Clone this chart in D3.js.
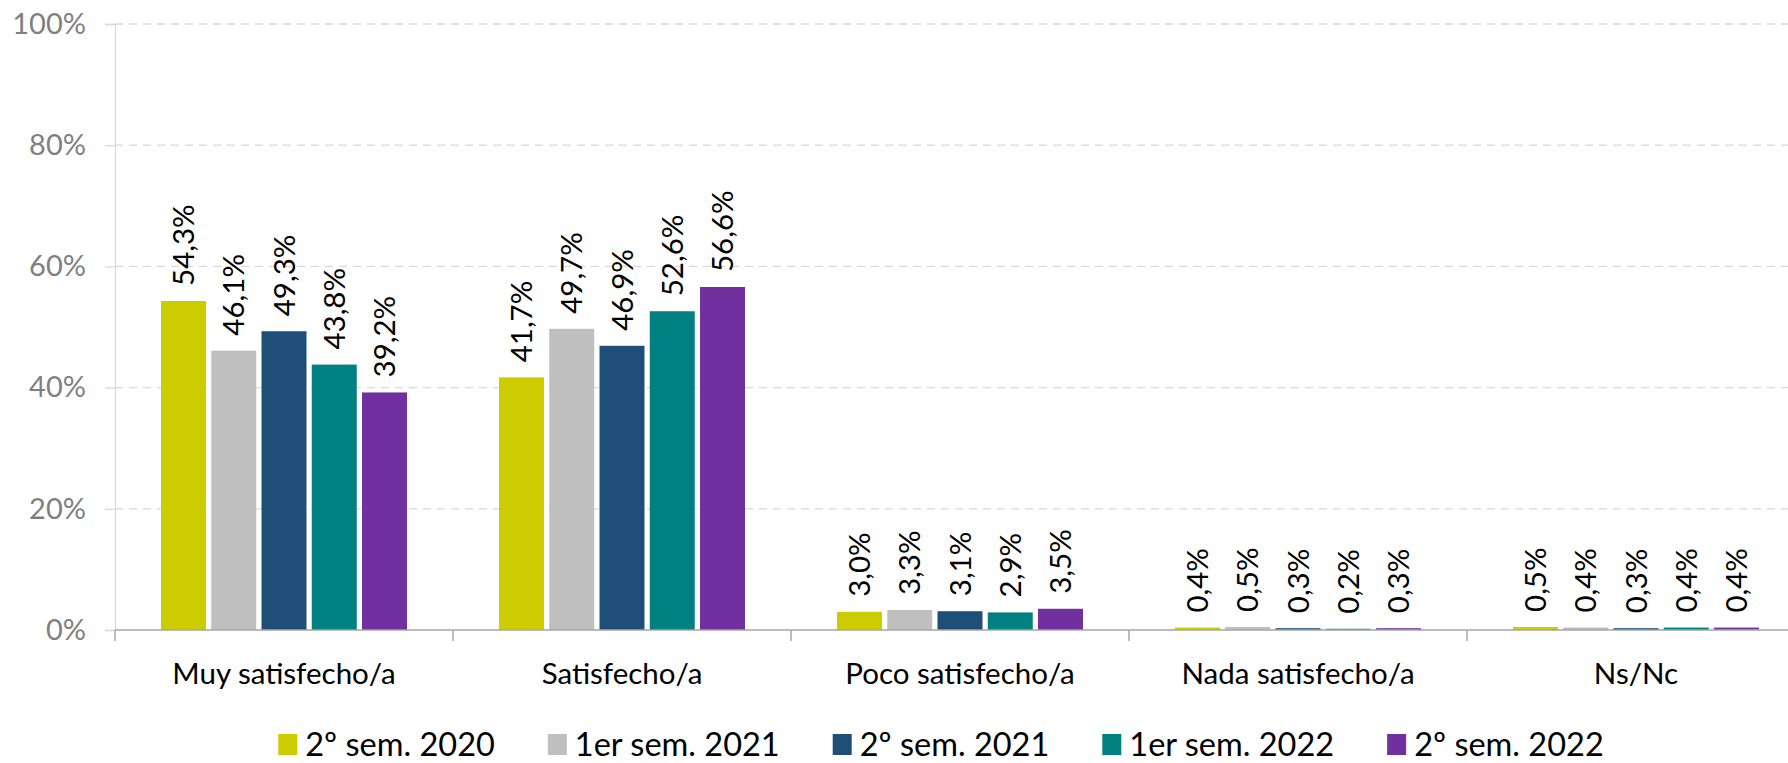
<!DOCTYPE html>
<html>
<head>
<meta charset="utf-8">
<script src="https://cdn.jsdelivr.net/npm/d3@7"></script>
<style>
  body { margin: 0; background: #fff; }
  svg { display: block; font-family: Lato, "Noto Sans", sans-serif; }
</style>
</head>
<body>
<script>
// categories and periods
var categories = ["Muy satisfecho/a", "Satisfecho/a", "Poco satisfecho/a", "Nada satisfecho/a", "Ns/Nc"];
var periods = ["2º sem. 2020", "1er sem. 2021", "2º sem. 2021", "1er sem. 2022", "2º sem. 2022"];

// values (%) per period, in category order
var sem2_2020 = [54.3, 41.7, 3.0, 0.4, 0.5];
var sem1_2021 = [46.1, 49.7, 3.3, 0.5, 0.4];
var sem2_2021 = [49.3, 46.9, 3.1, 0.3, 0.3];
var sem1_2022 = [43.8, 52.6, 2.9, 0.2, 0.4];
var sem2_2022 = [39.2, 56.6, 3.5, 0.3, 0.4];
var yTicks = [0, 20, 40, 60, 80, 100];

var seriesValues = [sem2_2020, sem1_2021, sem2_2021, sem1_2022, sem2_2022];
var colors = ["#cccc00", "#bfbfbf", "#1f4e79", "#008080", "#7030a0"];

var W = 1788, H = 763;
var plotLeft = 115, plotTop = 24, plotBottom = 630;
var catW = 338;

var svg = d3.select("body").append("svg")
    .attr("width", W)
    .attr("height", H);

var x0 = d3.scaleBand()
    .domain(categories)
    .range([plotLeft, plotLeft + catW * categories.length])
    .padding(0);

var x1 = d3.scaleBand()
    .domain(periods)
    .range([46, catW - 46])
    .paddingInner(0.105);

var y = d3.scaleLinear().domain([0, 100]).range([plotBottom, plotTop]);

var fmt = function (v) { return d3.format(".1f")(v).replace(".", ",") + "%"; };

// gridlines
svg.append("g")
    .selectAll("line")
    .data(yTicks.filter(function (d) { return d > 0; }))
    .enter()
    .append("line")
    .attr("x1", plotLeft)
    .attr("x2", W)
    .attr("y1", function (d) { return y(d); })
    .attr("y2", function (d) { return y(d); })
    .attr("stroke", "#d9d9d9")
    .attr("stroke-width", 1.3)
    .attr("stroke-dasharray", "8,6");

// y axis
var yAxis = svg.append("g")
    .attr("transform", "translate(" + plotLeft + ",0)")
    .call(d3.axisLeft(y).tickValues(yTicks).tickSize(10).tickPadding(19)
        .tickFormat(function (d) { return d + "%"; }));
yAxis.select(".domain").attr("stroke", "#d9d9d9").attr("stroke-width", 1.3);
yAxis.selectAll(".tick line").attr("stroke", "#d9d9d9").attr("stroke-width", 1.3);
yAxis.selectAll(".tick text")
    .attr("fill", "#7f7f7f")
    .style("font-size", "29px")
    .style("font-family", "Lato, sans-serif");

// bars
var groups = svg.append("g")
    .selectAll("g")
    .data(categories)
    .enter()
    .append("g")
    .attr("transform", function (d) { return "translate(" + x0(d) + ",0)"; });

groups.selectAll("rect")
    .data(function (d, i) {
        return periods.map(function (p, j) { return { period: p, value: seriesValues[j][i], color: colors[j] }; });
    })
    .enter()
    .append("rect")
    .attr("x", function (d) { return x1(d.period); })
    .attr("width", x1.bandwidth())
    .attr("y", function (d) { return y(d.value); })
    .attr("height", function (d) { return plotBottom - y(d.value); })
    .attr("fill", function (d) { return d.color; });

// data labels
groups.selectAll("text")
    .data(function (d, i) {
        return periods.map(function (p, j) { return { period: p, value: seriesValues[j][i] }; });
    })
    .enter()
    .append("text")
    .attr("transform", function (d) {
        return "translate(" + (x1(d.period) + x1.bandwidth() / 2 + 10.5) + "," + (y(d.value) - 15) + ") rotate(-90)";
    })
    .attr("text-anchor", "start")
    .attr("fill", "#000")
    .style("font-size", "29.5px")
    .text(function (d) { return fmt(d.value); });

// x axis
var xAxis = svg.append("g")
    .attr("transform", "translate(0," + plotBottom + ")");
xAxis.append("line")
    .attr("x1", plotLeft)
    .attr("x2", W)
    .attr("stroke", "#a6a6a6")
    .attr("stroke-width", 1.5);
xAxis.selectAll(".cat-tick")
    .data(categories)
    .enter()
    .append("line")
    .attr("class", "cat-tick")
    .attr("x1", function (d) { return x0(d); })
    .attr("x2", function (d) { return x0(d); })
    .attr("y1", 0)
    .attr("y2", 11)
    .attr("stroke", "#a6a6a6")
    .attr("stroke-width", 1.5);
xAxis.selectAll(".cat-label")
    .data(categories)
    .enter()
    .append("text")
    .attr("class", "cat-label")
    .attr("x", function (d) { return x0(d) + x0.bandwidth() / 2; })
    .attr("y", 54)
    .attr("text-anchor", "middle")
    .attr("fill", "#000")
    .style("font-size", "29.5px")
    .text(function (d) { return d; });

// legend
var legend = svg.append("g");
var items = legend.selectAll("g")
    .data(periods)
    .enter()
    .append("g");
items.append("rect")
    .attr("width", 19)
    .attr("height", 21)
    .attr("y", -22)
    .attr("fill", function (d, i) { return colors[i]; });
items.append("text")
    .attr("x", 27)
    .attr("y", 0)
    .attr("fill", "#000")
    .style("font-size", "32.5px")
    .text(function (d) { return d; });

var xpos = 0;
items.each(function () {
    var g = d3.select(this);
    g.attr("transform", "translate(" + xpos + ",0)");
    xpos += 27 + g.select("text").node().getComputedTextLength() + 53;
});
var legendWidth = xpos - 53;
legend.attr("transform", "translate(" + (941 - legendWidth / 2) + ",756)");
</script>
</body>
</html>
